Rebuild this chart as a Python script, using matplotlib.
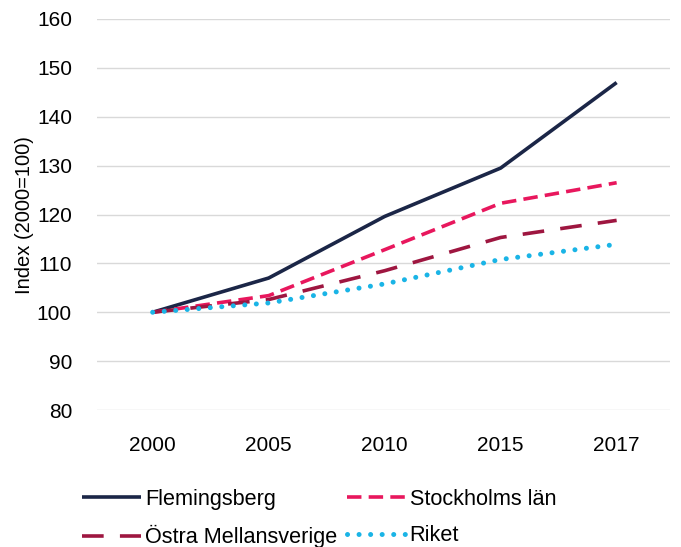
import matplotlib
matplotlib.use("Agg")
import matplotlib.pyplot as plt

years = ["2000", "2005", "2010", "2015", "2017"]
flemingsberg = [100, 107.0, 119.6, 129.5, 147.0]
stockholm = [100, 103.4, 112.8, 122.3, 126.5]
ostra = [100, 102.6, 108.5, 115.3, 118.8]
riket = [100, 101.9, 105.8, 110.8, 113.9]
labels = ["Flemingsberg", "Stockholms län", "Östra Mellansverige", "Riket"]
yticks = [80, 90, 100, 110, 120, 130, 140, 150, 160]

plt.rcParams['font.family'] = ['Liberation Sans', 'DejaVu Sans']

fig = plt.figure(figsize=(6.81, 5.47), dpi=100)
ax = fig.add_axes([97/681, 1-410/547, 573/681, (410-19)/547])

x = list(range(len(years)))
lw = 2.6
l1, = ax.plot(x, flemingsberg, color="#1B2647", lw=lw, solid_capstyle='butt', label=labels[0])
l2, = ax.plot(x, stockholm, color="#E8175D", lw=lw, linestyle=(0, (4, 2)), label=labels[1])
l3, = ax.plot(x, ostra, color="#9E1640", lw=lw, linestyle=(0, (6, 4.5)), label=labels[2])
l4, = ax.plot(x, riket, color="#1AB4E6", lw=3.6, linestyle=(0, (0.01, 2.3)),
              dash_capstyle='round', label=labels[3])

ax.set_xlim(-0.48, 4.46)
ax.set_ylim(80, 160)
ax.set_yticks(yticks)
ax.set_xticks(x)
ax.set_xticklabels(years)
ax.grid(axis='y', color="#D9D9D9", lw=1)
ax.set_axisbelow(True)
for s in ax.spines.values():
    s.set_visible(False)
ax.tick_params(axis='both', length=0, labelsize=15, colors="#000000")
ax.tick_params(axis='y', pad=18)
ax.tick_params(axis='x', pad=19)

fig.text(25/681, 1-215/547, "Index (2000=100)", rotation=90, ha='center', va='center', fontsize=14.5)

leg = fig.legend(handles=[l1, l3, l2, l4], labels=[labels[0], labels[2], labels[1], labels[3]],
                 ncol=2, frameon=False,
                 loc='upper left', bbox_to_anchor=(82/681, 1-489/547),
                 fontsize=15.6, handlelength=2.7, handletextpad=0.2, columnspacing=0.45,
                 labelspacing=0.7, borderpad=0, borderaxespad=0)

fig.savefig("out.png", dpi=100)
